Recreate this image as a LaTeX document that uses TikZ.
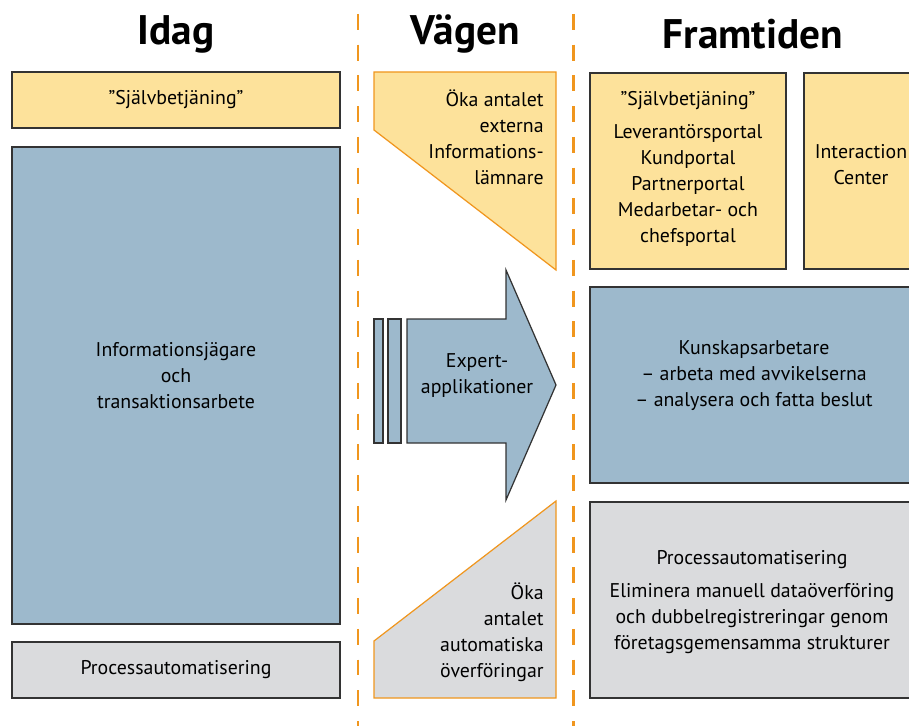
\documentclass[tikz,border=0pt]{standalone}
\usepackage{fontspec}
\setmainfont{PT Sans}
\definecolor{paleyellow}{HTML}{FDE29B}
\definecolor{steelblue}{HTML}{9DB9CC}
\definecolor{palegray}{HTML}{DADBDD}
\definecolor{divorange}{HTML}{F0961E}
\definecolor{boxline}{HTML}{333333}

\begin{document}
\begin{tikzpicture}[x=0.02cm, y=-0.02cm,
    heading/.style={font=\fontsize{23.5}{28}\bfseries\selectfont},
    txt/.style={font=\fontsize{11.3}{14.8}\selectfont, align=center, inner sep=0pt},
    rtxt/.style={font=\fontsize{11.3}{14.8}\selectfont, align=right, inner sep=0pt, anchor=east},
    box/.style={draw=boxline, line width=0.7pt},
    cut/.style={draw=divorange, line width=0.7pt},
    divider/.style={draw=divorange, line width=1.7pt, dash pattern=on 9pt off 8.5pt}]
    \useasboundingbox (0,0) rectangle (909,726);

    \coordinate (A) at (12,72);
    \coordinate (B) at (340,128);
    \coordinate (C) at (12,147);
    \coordinate (D) at (340,624);
    \coordinate (E) at (12,642);
    \coordinate (F) at (340,698);
    \coordinate (G) at (590,73);
    \coordinate (H) at (786,269);
    \coordinate (I) at (804,73);
    \coordinate (J) at (918,269);
    \coordinate (K) at (590,287);
    \coordinate (L) at (918,483);
    \coordinate (M) at (590,502);
    \coordinate (N) at (918,698);

    % dividers
    \draw[divider] (358,14) -- (358,726);
    \draw[divider] (573,14) -- (573,726);

    % headings
    \node[heading] (idag) at (176,34) {Idag};
    \node[heading] (vagen) at (465,34) {Vägen};
    \node[heading] (framtid) at (753,34) {Framtiden};

    % idag
    \draw[box, fill=paleyellow] (A) rectangle (B);
    \draw[box, fill=steelblue] (C) rectangle (D);
    \draw[box, fill=palegray] (E) rectangle (F);
    \node[txt] (selfL) at (176,100) {”Självbetjäning”};
    \node[txt] (infoL) at (176,376) {Informationsjägare\\och\\transaktionsarbete};
    \node[txt] (procL) at (176,670) {Processautomatisering};

    % vagen
    \draw[cut, fill=paleyellow] (374,72) -- (556,72) -- (556,270) -- (374,130) -- cycle;
    \node[rtxt] (okaext) at (544,137) {Öka antalet\\externa\\Informations-\\lämnare};

    \draw[box, fill=steelblue] (374,319) rectangle (383,443);
    \draw[box, fill=steelblue] (388,319) rectangle (401,443);
    \draw[box, fill=steelblue] (407,319) -- (506,319) -- (506,270) -- (556,385)
        -- (506,500) -- (506,443) -- (407,443) -- cycle;
    \node[txt] (expert) at (477,376) {Expert-\\applikationer};

    \draw[cut, fill=palegray] (374,641) -- (556,501) -- (556,698) -- (374,698) -- cycle;
    \node[rtxt] (okaaut) at (544,632) {Öka\\antalet\\automatiska\\överföringar};

    % framtiden
    \draw[box, fill=paleyellow] (G) rectangle (H);
    \draw[box, fill=paleyellow] (I) rectangle (J);
    \draw[box, fill=steelblue] (K) rectangle (L);
    \draw[box, fill=palegray] (M) rectangle (N);
    \node[txt] (selfR) at (688,169) {”Självbetjäning”\\[4pt]Leverantörsportal\\Kundportal\\Partnerportal\\Medarbetar- och\\chefsportal};
    \node[txt] (interact) at (861,165) {Interaction\\Center};
    \node[txt] (kunskap) at (754,376) {Kunskapsarbetare\\– arbeta med avvikelserna\\– analysera och fatta beslut};
    \node[txt] (procR) at (752,602) {Processautomatisering\\[4pt]Eliminera manuell dataöverföring\\och dubbelregistreringar genom\\företagsgemensamma strukturer};
\end{tikzpicture}
\end{document}
